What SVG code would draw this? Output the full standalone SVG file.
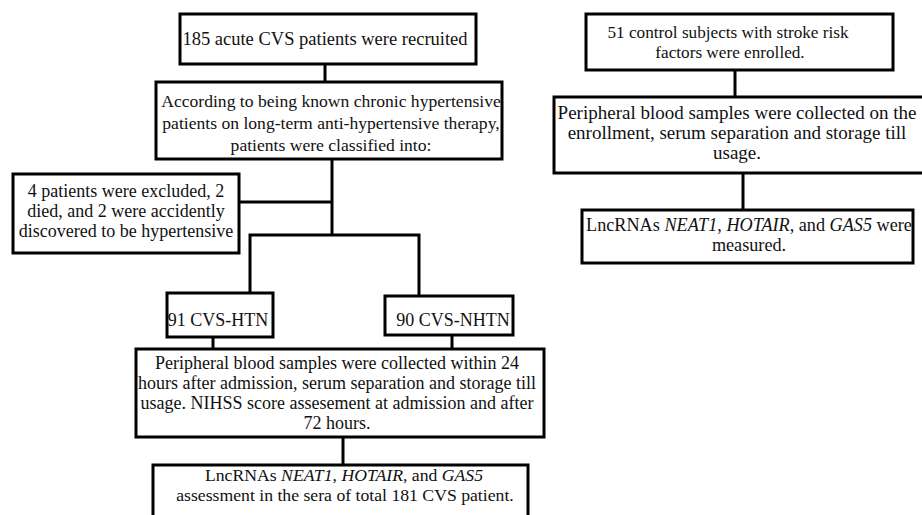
<svg xmlns="http://www.w3.org/2000/svg" width="922" height="515" viewBox="0 0 922 515">
<style>
.box{fill:#fff;stroke:#000;stroke-width:3}
.ln{fill:none;stroke:#000;stroke-width:3}
text{font-family:'Liberation Serif','Times New Roman',serif;font-size:18px;fill:#111;text-anchor:middle}
.i{font-style:italic}
</style>
<rect width="922" height="515" fill="#fff"/>
<g id="connectors">
<line class="ln" x1="325" y1="64" x2="325" y2="82"/>
<polyline class="ln" points="332,159 332,235"/>
<line class="ln" x1="239" y1="202" x2="332" y2="202"/>
<polyline class="ln" points="250,293 250,235 419,235 419,296"/>
<line class="ln" x1="213" y1="337" x2="213" y2="349"/>
<line class="ln" x1="452" y1="335" x2="452" y2="349"/>
<line class="ln" x1="343" y1="437" x2="343" y2="465"/>
<line class="ln" x1="735" y1="70" x2="735" y2="97"/>
<line class="ln" x1="743" y1="173" x2="743" y2="210"/>
</g>
<g id="recruited" font-size="18.5">
<rect class="box" x="180" y="14" width="296" height="50"/>
<text x="325" y="45" style="font-size:18.5px">185 acute CVS patients were recruited</text>
</g>
<g id="classified">
<rect class="box" x="156" y="82" width="346" height="77"/>
<text x="331" y="107" style="font-size:17.6px">According to being known chronic hypertensive</text>
<text x="331" y="129" style="font-size:17.6px">patients on long-term anti-hypertensive therapy,</text>
<text x="331" y="151" style="font-size:17.6px">patients were classified into:</text>
</g>
<g id="excluded">
<rect class="box" x="13" y="174" width="226" height="79"/>
<text x="126" y="197">4 patients were excluded, 2</text>
<text x="126" y="217">died, and 2 were accidently</text>
<text x="126" y="237">discovered to be hypertensive</text>
</g>
<g id="htn">
<rect class="box" x="167" y="293" width="106" height="44"/>
<text x="218" y="326">91 CVS-HTN</text>
</g>
<g id="nhtn">
<rect class="box" x="385" y="296" width="128" height="39"/>
<text x="453" y="326">90 CVS-NHTN</text>
</g>
<g id="samples">
<rect class="box" x="136" y="349" width="408" height="88"/>
<text x="337" y="369">Peripheral blood samples were collected within 24</text>
<text x="337" y="389">hours after admission, serum separation and storage till</text>
<text x="337" y="409">usage. NIHSS score assesement at admission and after</text>
<text x="337" y="429">72 hours.</text>
</g>
<g id="assessment">
<rect class="box" x="153" y="465" width="375" height="60"/>
<text x="344" y="481" style="font-size:17.7px">LncRNAs <tspan class="i">NEAT1</tspan>, <tspan class="i">HOTAIR</tspan>, and <tspan class="i">GAS5</tspan></text>
<text x="345" y="501" style="font-size:17.7px">assessment in the sera of total 181 CVS patient.</text>
</g>
<g id="controls">
<rect class="box" x="586" y="14" width="307" height="56"/>
<text x="728" y="38" style="font-size:17.2px">51 control subjects with stroke risk</text>
<text x="730" y="58" style="font-size:17.2px">factors were enrolled.</text>
</g>
<g id="control-samples">
<rect class="box" x="554" y="97" width="372" height="76"/>
<text x="737" y="119" style="font-size:19px">Peripheral blood samples were collected on the</text>
<text x="737" y="139" style="font-size:19px">enrollment, serum separation and storage till</text>
<text x="737" y="159" style="font-size:19px">usage.</text>
</g>
<g id="control-measured">
<rect class="box" x="582" y="210" width="331" height="53"/>
<text x="749" y="231" style="font-size:18.2px">LncRNAs <tspan class="i">NEAT1</tspan>, <tspan class="i">HOTAIR</tspan>, and <tspan class="i">GAS5</tspan> were</text>
<text x="749" y="251" style="font-size:18.2px">measured.</text>
</g>
</svg>
